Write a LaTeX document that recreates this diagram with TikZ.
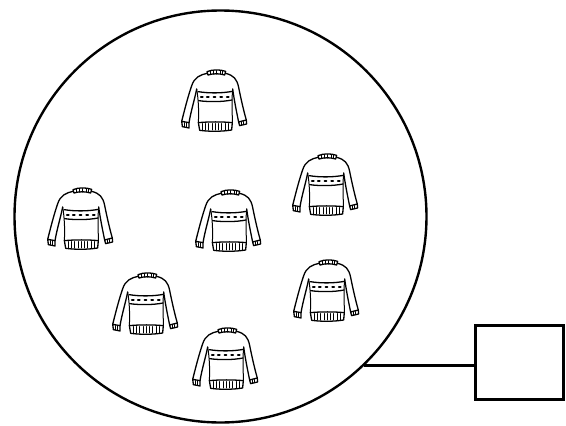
\documentclass[tikz,border=0pt]{standalone}
\tikzset{
    pool/.style = {draw, circle, line width=2.4pt, minimum size=412pt, inner sep=0pt},
    bin/.style = {draw, rectangle, line width=2.4pt, minimum width=88pt, minimum height=74pt},
    pics/sweater/.style = {code={
        \begin{scope}[x=0.333pt, y=-0.333pt, shift={(-131,-118)}, line width=1.3pt, line cap=round, line join=round]
            % Collar
            \draw (110,33) .. controls (125,26) and (150,26) .. (166,32) -- (163,43) .. controls (148,38) and (128,38) .. (113,43) -- cycle;
            \foreach \i in {120,130,140,150,158} \draw[line width=1pt] (\i,30) -- (\i,40);
            % Shoulders and sleeves
            \draw (110,38) .. controls (90,42) and (72,50) .. (64,75) .. controls (52,110) and (42,150) .. (34,182);
            \draw (166,38) .. controls (190,44) and (200,55) .. (205,80) .. controls (212,115) and (220,150) .. (228,178);
            \draw (56,186) .. controls (62,150) and (72,120) .. (79,85);
            \draw (205,184) .. controls (198,150) and (192,120) .. (187,85);
            % Cuffs
            \draw (34,182) -- (36,198) -- (56,202) -- (56,186) -- cycle;
            \draw (205,184) -- (208,195) -- (229,190) -- (228,178) -- cycle;
            \foreach \i in {41,49} \draw[line width=1pt] (\i,186) -- (\i,199);
            \foreach \i in {214,221} \draw[line width=1pt] (\i,183) -- (\i,192);
            % Body
            \draw[line width=1pt] (79,85) .. controls (84,115) and (86,150) .. (84,186);
            \draw[line width=1pt] (187,85) .. controls (184,115) and (186,150) .. (186,186);
            \draw (84,186) .. controls (115,183) and (155,183) .. (186,186) -- (184,208) .. controls (155,213) and (115,213) .. (88,209) -- cycle;
            \foreach \i in {95,105,115,125,135,145,155,165,175} \draw[line width=1pt] (\i,189) -- (\i,208);
            % Band
            \draw (84,93) .. controls (115,98) and (155,98) .. (186,92);
            \draw (85,120) .. controls (115,124) and (155,124) .. (185,118);
            \foreach \i in {92,110,130,150,170} \draw[line width=2.2pt] (\i,108) -- ++(5,0);
        \end{scope}
    }}
}
\begin{document}
\begin{tikzpicture}[x=1pt, y=-1pt]
    \useasboundingbox (0,0) rectangle (566,426);
    % Nodes
    \node[pool] (P) at (220.5,216.5) {};
    \node[bin] (B) at (519.5,362.5) {};
    \coordinate (J) at (P.-46.6);

    % Sweaters
    \pic (S0) at (214,100) {sweater};
    \pic (S1) at (325,184) {sweater};
    \pic (S2) at (80,218) {sweater};
    \pic (S3) at (228,220) {sweater};
    \pic (S4) at (145,303) {sweater};
    \pic (S5) at (326,290) {sweater};
    \pic (S6) at (225,358) {sweater};

    \draw[line width=2.4pt] (J) -- (J -| B.west);
\end{tikzpicture}
\end{document}
